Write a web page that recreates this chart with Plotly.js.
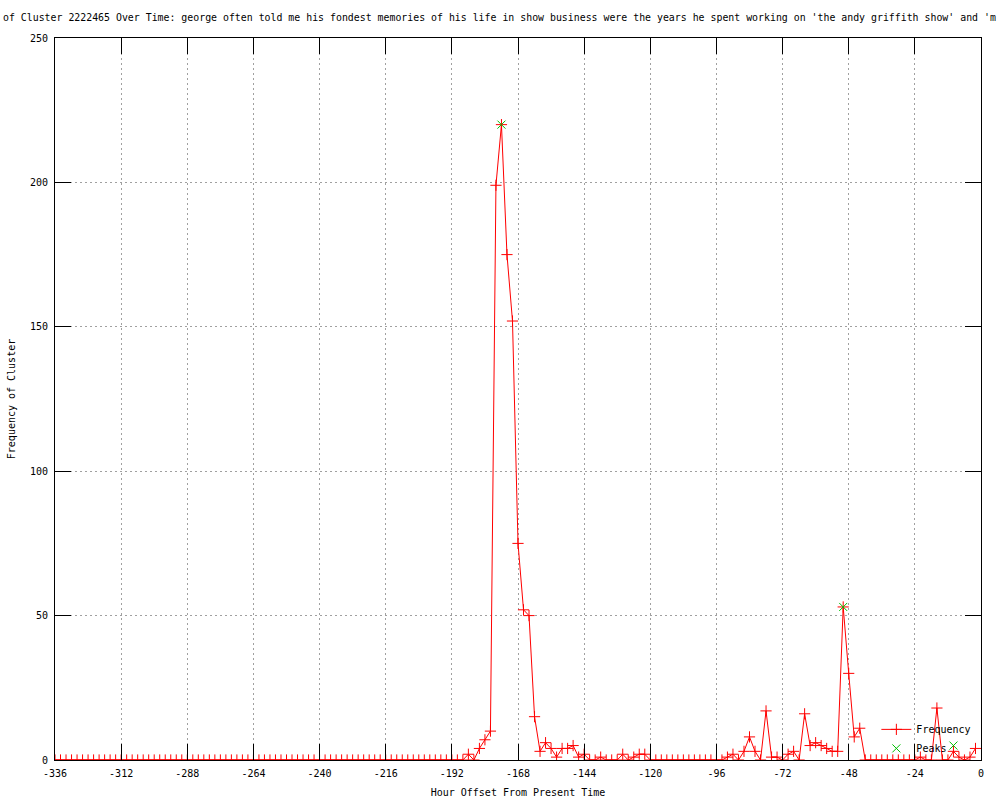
<!DOCTYPE html>
<html>
<head>
<meta charset="utf-8">
<script src="https://cdn.plot.ly/plotly-3.0.1.min.js"></script>
<style>html,body{margin:0;padding:0;background:#fff;}#chart{width:1000px;height:800px;}</style>
</head>
<body>
<div id="chart"></div>
<script>
// Hour offsets (every 2 hours)
const hours = [
 -336,-334,-332,-330,-328,-326,-324,-322,-320,-318,-316,-314,-312,-310,-308,-306,-304,-302,-300,-298,
 -296,-294,-292,-290,-288,-286,-284,-282,-280,-278,-276,-274,-272,-270,-268,-266,-264,-262,-260,-258,
 -256,-254,-252,-250,-248,-246,-244,-242,-240,-238,-236,-234,-232,-230,-228,-226,-224,-222,-220,-218,
 -216,-214,-212,-210,-208,-206,-204,-202,-200,-198,-196,-194,-192,-190,-188,-186,-184,-182,-180,-178,
 -176,-174,-172,-170,-168,-166,-164,-162,-160,-158,-156,-154,-152,-150,-148,-146,-144,-142,-140,-138,
 -136,-134,-132,-130,-128,-126,-124,-122,-120,-118,-116,-114,-112,-110,-108,-106,-104,-102,-100,-98,
 -96,-94,-92,-90,-88,-86,-84,-82,-80,-78,-76,-74,-72,-70,-68,-66,-64,-62,-60,-58,
 -56,-54,-52,-50,-48,-46,-44,-42,-40,-38,-36,-34,-32,-30,-28,-26,-24,-22,-20,-18,
 -16,-14,-12,-10,-8,-6,-4,-2
];
const frequency = [
 0,0,0,0,0,0,0,0,0,0,0,0,0,0,0,0,0,0,0,0,
 0,0,0,0,0,0,0,0,0,0,0,0,0,0,0,0,0,0,0,0,
 0,0,0,0,0,0,0,0,0,0,0,0,0,0,0,0,0,0,0,0,
 0,0,0,0,0,0,0,0,0,0,0,0,0,0,0,2,0,4,7,10,
 199,220,175,152,75,52,50,15,3,6,4,1,4,4,5,1,2,0,0,1,
 0,0,0,2,0,1,2,2,0,0,0,0,0,0,0,0,0,0,0,0,
 0,0,1,2,0,3,8,3,0,17,1,1,0,2,3,0,16,5,6,5,
 4,3,3,53,30,8,11,0,0,0,0,0,0,0,0,0,0,1,0,0,
 18,0,0,3,1,0,1,4
];
const peakHours = [-174, -50, -10];
const peakValues = [220, 53, 5];

const xTickVals = [-336,-312,-288,-264,-240,-216,-192,-168,-144,-120,-96,-72,-48,-24,0];
const xTickText = ["-336","-312","-288","-264","-240","-216","-192","-168","-144","-120","-96","-72","-48","-24","0"];
const yTickVals = [0,50,100,150,200,250];
const yTickText = ["0","50","100","150","200","250"];

const titleText = "of Cluster 2222465 Over Time: george often told me his fondest memories of his life in show business were the years he spent working on 'the andy griffith show' and 'm";

const FONT = "DejaVu Sans Mono, Liberation Mono, monospace";

const traces = [
  {
    x: hours, y: frequency, type: 'scatter', mode: 'lines+markers', name: 'Frequency',
    line: {color: '#ff0000', width: 1},
    marker: {symbol: 'cross-thin-open', size: 8, color: '#ff0000', line: {color: '#ff0000', width: 1}}
  },
  {
    x: peakHours, y: peakValues, type: 'scatter', mode: 'markers', name: 'Peaks',
    marker: {symbol: 'x-thin-open', size: 8, color: '#00c000', line: {color: '#00c000', width: 1}}
  }
];

const axisCommon = {
  showline: true, linecolor: '#000', linewidth: 1, mirror: 'ticks',
  ticks: 'inside', ticklen: 16, tickcolor: '#000', tickwidth: 1,
  showgrid: true, gridcolor: '#a0a0a0', griddash: '2px,3px', gridwidth: 1,
  zeroline: false, tickfont: {family: FONT, size: 10, color: '#000'},
  tickmode: 'array', automargin: false
};

const layout = {
  width: 1000, height: 800,
  paper_bgcolor: '#fff', plot_bgcolor: '#fff',
  margin: {l: 55, r: 19, t: 38, b: 40},
  font: {family: FONT, size: 10, color: '#000'},
  title: {text: titleText, x: 0.003, xanchor: 'left', xref: 'container', y: 0.978, yanchor: 'middle', yref: 'container', font: {family: FONT, size: 9.9, color: '#000'}},
  xaxis: Object.assign({}, axisCommon, {
    range: [-336, 0], tickvals: xTickVals, ticktext: xTickText, ticklabelstandoff: 4,
    title: {text: 'Hour Offset From Present Time', standoff: 10, font: {family: FONT, size: 10, color: '#000'}}
  }),
  yaxis: Object.assign({}, axisCommon, {
    range: [0, 250], tickvals: yTickVals, ticktext: yTickText, ticklabelstandoff: 4,
    title: {text: 'Frequency of Cluster', standoff: 12, font: {family: FONT, size: 10, color: '#000'}}
  }),
  showlegend: true,
  legend: {x: 0.995, xanchor: 'right', y: -0.004, yanchor: 'bottom', bgcolor: 'rgba(0,0,0,0)',
    font: {family: FONT, size: 10, color: '#000'}, tracegroupgap: 0, itemwidth: 30}
};

Plotly.newPlot('chart', traces, layout, {staticPlot: true, displayModeBar: false});
</script>
</body>
</html>
